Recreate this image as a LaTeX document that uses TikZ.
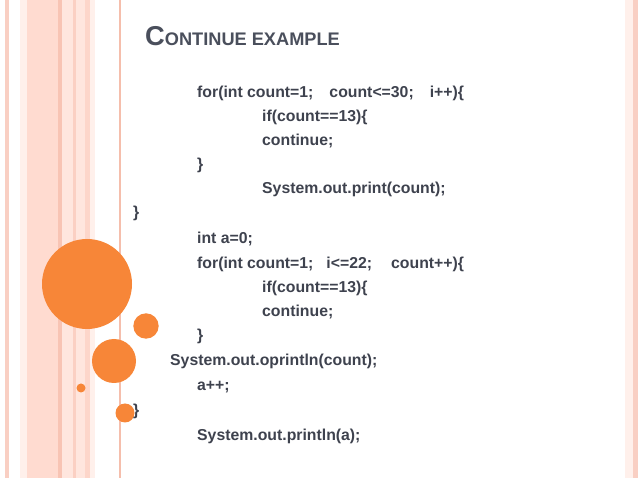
\documentclass[tikz,border=0pt]{standalone}
\usepackage{fontspec}
\setmainfont{Liberation Sans}
\definecolor{txt}{RGB}{62,66,78}
\definecolor{ttl}{RGB}{74,79,92}
\definecolor{orng}{RGB}{247,134,56}
\definecolor{pk1}{RGB}{249,207,195}
\definecolor{pk2}{RGB}{255,240,235}
\definecolor{pk3}{RGB}{255,219,208}
\definecolor{pk4}{RGB}{248,196,180}
\definecolor{pk5}{RGB}{255,230,222}
\definecolor{pk6}{RGB}{251,208,195}
\definecolor{pk7}{RGB}{253,214,202}
\definecolor{lne}{RGB}{245,190,172}
\tikzset{
  code/.style={anchor=base west, inner sep=0pt, text=txt, font=\fontsize{15.8}{18}\selectfont\bfseries},
  ttlstyle/.style={anchor=base west, inner sep=0pt, text=ttl, font=\bfseries},
  dot/.style={fill=orng, draw=none}
}
\begin{document}
\begin{tikzpicture}[x=1pt,y=-1pt]
\useasboundingbox (0,0) rectangle (638,478);
\fill[white] (0,0) rectangle (638,478);
% left stripes
\fill[pk1] (5,0) rectangle (9,478);
\fill[pk2] (20,0) rectangle (27,478);
\fill[pk3] (27,0) rectangle (58,478);
\fill[pk4] (58,0) rectangle (62,478);
\fill[pk5] (62,0) rectangle (73,478);
\fill[pk6] (73,0) rectangle (76,478);
\fill[pk5] (76,0) rectangle (85,478);
\fill[pk7] (85,0) rectangle (90,478);
\fill[pk2] (90,0) rectangle (95,478);
\fill[lne] (119,0) rectangle (121,478);
% right stripes
\fill[pk2] (625,0) rectangle (633,478);
\fill[pk1] (633,0) rectangle (638,478);
% circles
\fill[dot] (87,284) circle (45);
\fill[dot] (146,326) circle (12.7);
\fill[dot] (114,361) circle (22);
\fill[dot] (81,388) circle (4.5);
\fill[dot] (125,413) circle (9.5);
% title
\node[ttlstyle] (title) at (145,46) {\fontsize{27.3}{30}\selectfont C\fontsize{18.2}{20}\selectfont ONTINUE EXAMPLE};
% code
\node[code] (l1) at (197,98) {for(int count=1;\hspace{16pt}count<=30;\hspace{16pt}i++)\{};
\node[code] (l2) at (262,122) {if(count==13)\{};
\node[code] (l3) at (262,146) {continue;};
\node[code] (l4) at (197,170) {\}};
\node[code] (l5) at (262,194) {System.out.print(count);};
\node[code] (l6) at (133,218) {\}};
\node[code] (l7) at (197,244) {int a=0;};
\node[code] (l8) at (197,269) {for(int count=1;\hspace{13pt}i<=22;\hspace{19pt}count++)\{};
\node[code] (l9) at (262,293) {if(count==13)\{};
\node[code] (l10) at (262,317) {continue;};
\node[code] (l11) at (197,341) {\}};
\node[code] (l12) at (170,366) {System.out.oprintln(count);};
\node[code] (l13) at (197,391) {a++;};
\node[code] (l14) at (133,416) {\}};
\node[code] (l15) at (197,441) {System.out.println(a);};
\end{tikzpicture}
\end{document}
